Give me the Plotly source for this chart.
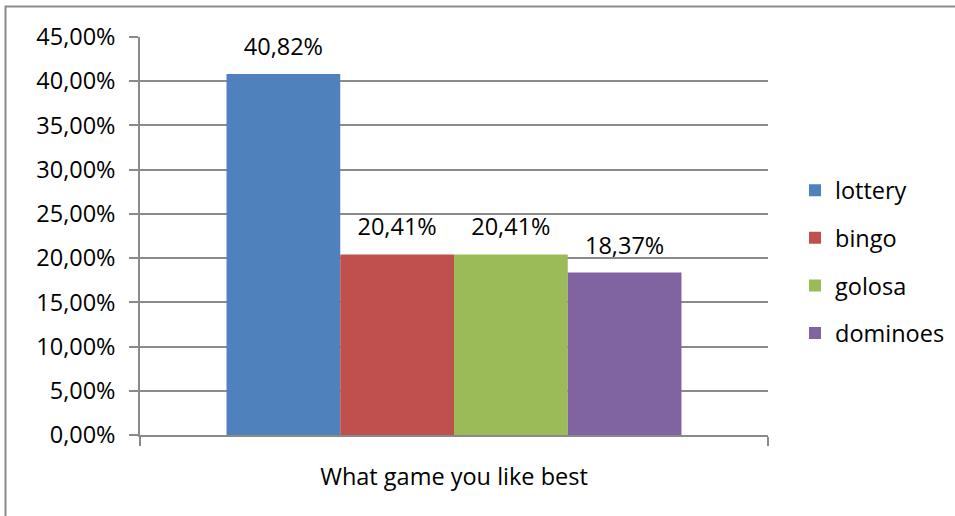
import plotly.graph_objects as go

category = ["What game you like best"]
series_names = ["lottery", "bingo", "golosa", "dominoes"]
series_values = [0.4082, 0.2041, 0.2041, 0.1837]
series_colors = ["#4F81BD", "#C0504D", "#9BBB59", "#8064A2"]
y_ticks = [0, 0.05, 0.10, 0.15, 0.20, 0.25, 0.30, 0.35, 0.40, 0.45]

FONT = "Open Sans"
FS = 23.5
W, H = 955, 516
L, R, T, B = 140, 768, 37, 435

fig = go.Figure()
for i, (name, v, c) in enumerate(zip(series_names, series_values, series_colors)):
    fig.add_trace(go.Bar(
        x=category, y=[v], name=name, marker=dict(color=c, line=dict(width=0)),
        texttemplate="<span style='font-size:23.5px'>%{y:.2%}</span><br> ",
        textposition="outside", cliponaxis=False, constraintext="none",
        textfont=dict(family=FONT, size=10, color="#000000"),
        legendgroup=name,
    ))

gridc = "#8a8a8a"
LW = 1.5
fig.update_layout(
    width=W, height=H,
    margin=dict(l=L, r=W - R, t=T, b=H - B, pad=0),
    paper_bgcolor="white", plot_bgcolor="white",
    separators=", ",
    barmode="group", bargap=0.2755, bargroupgap=0,
    font=dict(family=FONT, size=FS, color="#000000"),
    showlegend=True,
    legend=dict(xref="container", yref="container",
                x=795 / W, xanchor="left", y=1 - 262 / H, yanchor="middle",
                font=dict(family=FONT, size=FS, color="#000000"), tracegroupgap=14,
                bgcolor="rgba(0,0,0,0)"),
    xaxis=dict(type="category", tickson="boundaries", ticks="outside", ticklen=9, tickwidth=LW,
               tickcolor=gridc, showline=True, linecolor=gridc, linewidth=LW, showgrid=False,
               ticklabelstandoff=20, tickfont=dict(family=FONT, size=FS, color="#000000")),
    yaxis=dict(range=[0, 0.45], tickvals=y_ticks, tickformat=".2%", ticks="outside", ticklen=9,
               tickwidth=LW, tickcolor=gridc, showline=True, linecolor=gridc, linewidth=LW,
               showgrid=True, gridcolor=gridc, gridwidth=LW, zeroline=False,
               ticklabelstandoff=9, tickfont=dict(family=FONT, size=FS, color="#000000")),
    shapes=[dict(type="rect", xref="paper", yref="paper",
                 x0=(5.5 - L) / (R - L), x1=(962 - L) / (R - L),
                 y0=(B - 525) / (B - T), y1=(B - 6.5) / (B - T),
                 line=dict(color="#8c8c8c", width=2), fillcolor="rgba(0,0,0,0)", layer="below")],
)

fig.write_html("out.html")
